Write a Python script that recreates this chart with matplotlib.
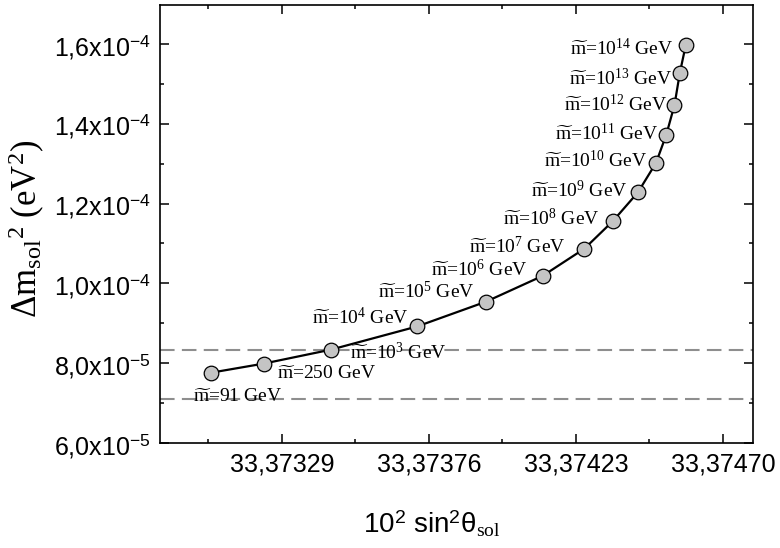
import numpy as np
import matplotlib
matplotlib.use("Agg")
import matplotlib.pyplot as plt
from matplotlib.ticker import FixedLocator, FuncFormatter, MultipleLocator

# DONNEES : 10^2 sin^2(theta_sol) et Delta m^2_sol pour chaque masse m~
masses = ["91", "250", "10$^{3}$", "10$^{4}$", "10$^{5}$", "10$^{6}$", "10$^{7}$",
          "10$^{8}$", "10$^{9}$", "10$^{10}$", "10$^{11}$", "10$^{12}$", "10$^{13}$", "10$^{14}$"]
sin2_sol = [33.373062, 33.373232, 33.373447, 33.373722, 33.373942, 33.374124, 33.374257,
            33.374348, 33.374428, 33.374486, 33.374519, 33.374545, 33.374562, 33.374581]
dm2_sol = [7.76e-5, 7.99e-5, 8.34e-5, 8.92e-5, 9.54e-5, 1.019e-4, 1.087e-4,
           1.156e-4, 1.228e-4, 1.302e-4, 1.373e-4, 1.447e-4, 1.527e-4, 1.597e-4]

# bornes experimentales (lignes pointillees)
dm2_min = 7.11e-5
dm2_max = 8.33e-5

# graduations de l'axe x
x_ticks = [33.37329, 33.37376, 33.37423, 33.37470]

# position des etiquettes par rapport aux points (pixels)
decalages = [(-18, -25, "left"), (13, -11, "left"), (19, -3, "left"),
             (-9, 9, "right"), (-11, 10, "right"), (-15, 6, "right"), (-19, 2, "right"),
             (-13, 3, "right"), (-10, 2, "right"), (-9, 2, "right"), (-8, 1, "right"),
             (-7, 0, "right"), (-7, -5, "right"), (-12, -3, "right")]

plt.rcParams["font.family"] = "Liberation Sans"
plt.rcParams["mathtext.fontset"] = "custom"
plt.rcParams["mathtext.rm"] = "Liberation Serif"
plt.rcParams["mathtext.it"] = "Liberation Serif:italic"
plt.rcParams["mathtext.bf"] = "Liberation Serif:bold"
plt.rcParams["mathtext.sf"] = "Liberation Sans"

fig = plt.figure(figsize=(7.8, 5.48), dpi=100)
ax = fig.add_axes([160 / 780, 1 - 443 / 548, 593 / 780, 438 / 548])

ax.axhline(dm2_max, color="#8e8e8e", lw=1.5, ls=(0, (7, 3.5)), zorder=1)
ax.axhline(dm2_min, color="#8e8e8e", lw=1.5, ls=(0, (7, 3.5)), zorder=1)
ax.plot(sin2_sol, dm2_sol, color="black", lw=1.6, marker="o", ms=10.5,
        mfc="#c4c4c4", mec="black", mew=0.9, zorder=3)

for xv, yv, m, (dx, dy, ha) in zip(sin2_sol, dm2_sol, masses, decalages):
    ax.annotate(r"$\widetilde{\mathrm{m}}$=" + m + " GeV", xy=(xv, yv),
                xytext=(dx, dy), textcoords="offset pixels", ha=ha, va="center",
                fontsize=14, family="Liberation Serif", zorder=4)

ax.set_xlim(33.37290, 33.374796)
ax.set_ylim(6.0e-5, 1.6975e-4)

ax.xaxis.set_major_locator(FixedLocator(x_ticks))
pas = x_ticks[1] - x_ticks[0]
ax.xaxis.set_minor_locator(FixedLocator([x_ticks[0] - pas / 2] + [t + pas / 2 for t in x_ticks]))
ax.xaxis.set_major_formatter(FuncFormatter(lambda v, p: f"{v:.5f}".replace(".", ",")))

ax.yaxis.set_major_locator(MultipleLocator(2e-5))
ax.yaxis.set_minor_locator(MultipleLocator(1e-5))


def format_y(v, p):
    expo = int(np.floor(np.log10(v) + 1e-9))
    mant = v / 10 ** expo
    return f"{mant:.1f}".replace(".", ",") + "x10$^{\\mathsf{" + str(expo) + "}}$"


ax.yaxis.set_major_formatter(FuncFormatter(format_y))

ax.tick_params(which="both", direction="in", top=True, right=True, width=1.1)
ax.tick_params(which="major", length=6.5, labelsize=18, pad=7)
ax.tick_params(which="minor", length=3.2)
for s in ax.spines.values():
    s.set_linewidth(1.2)

ax.set_xlabel(r"10$^{\mathsf{2}}$ sin$^{\mathsf{2}}\mathsf{\theta}_{\mathrm{sol}}$", fontsize=20)
ax.xaxis.set_label_coords(0.459, -0.15)
ax.set_ylabel(r"$\Delta\mathrm{m}_{\mathrm{sol}}$$^{2}$ (eV$^{2}$)", fontsize=25,
              family="Liberation Serif")
ax.yaxis.set_label_coords(-0.19, 0.49)

fig.savefig("out.png", dpi=100)
